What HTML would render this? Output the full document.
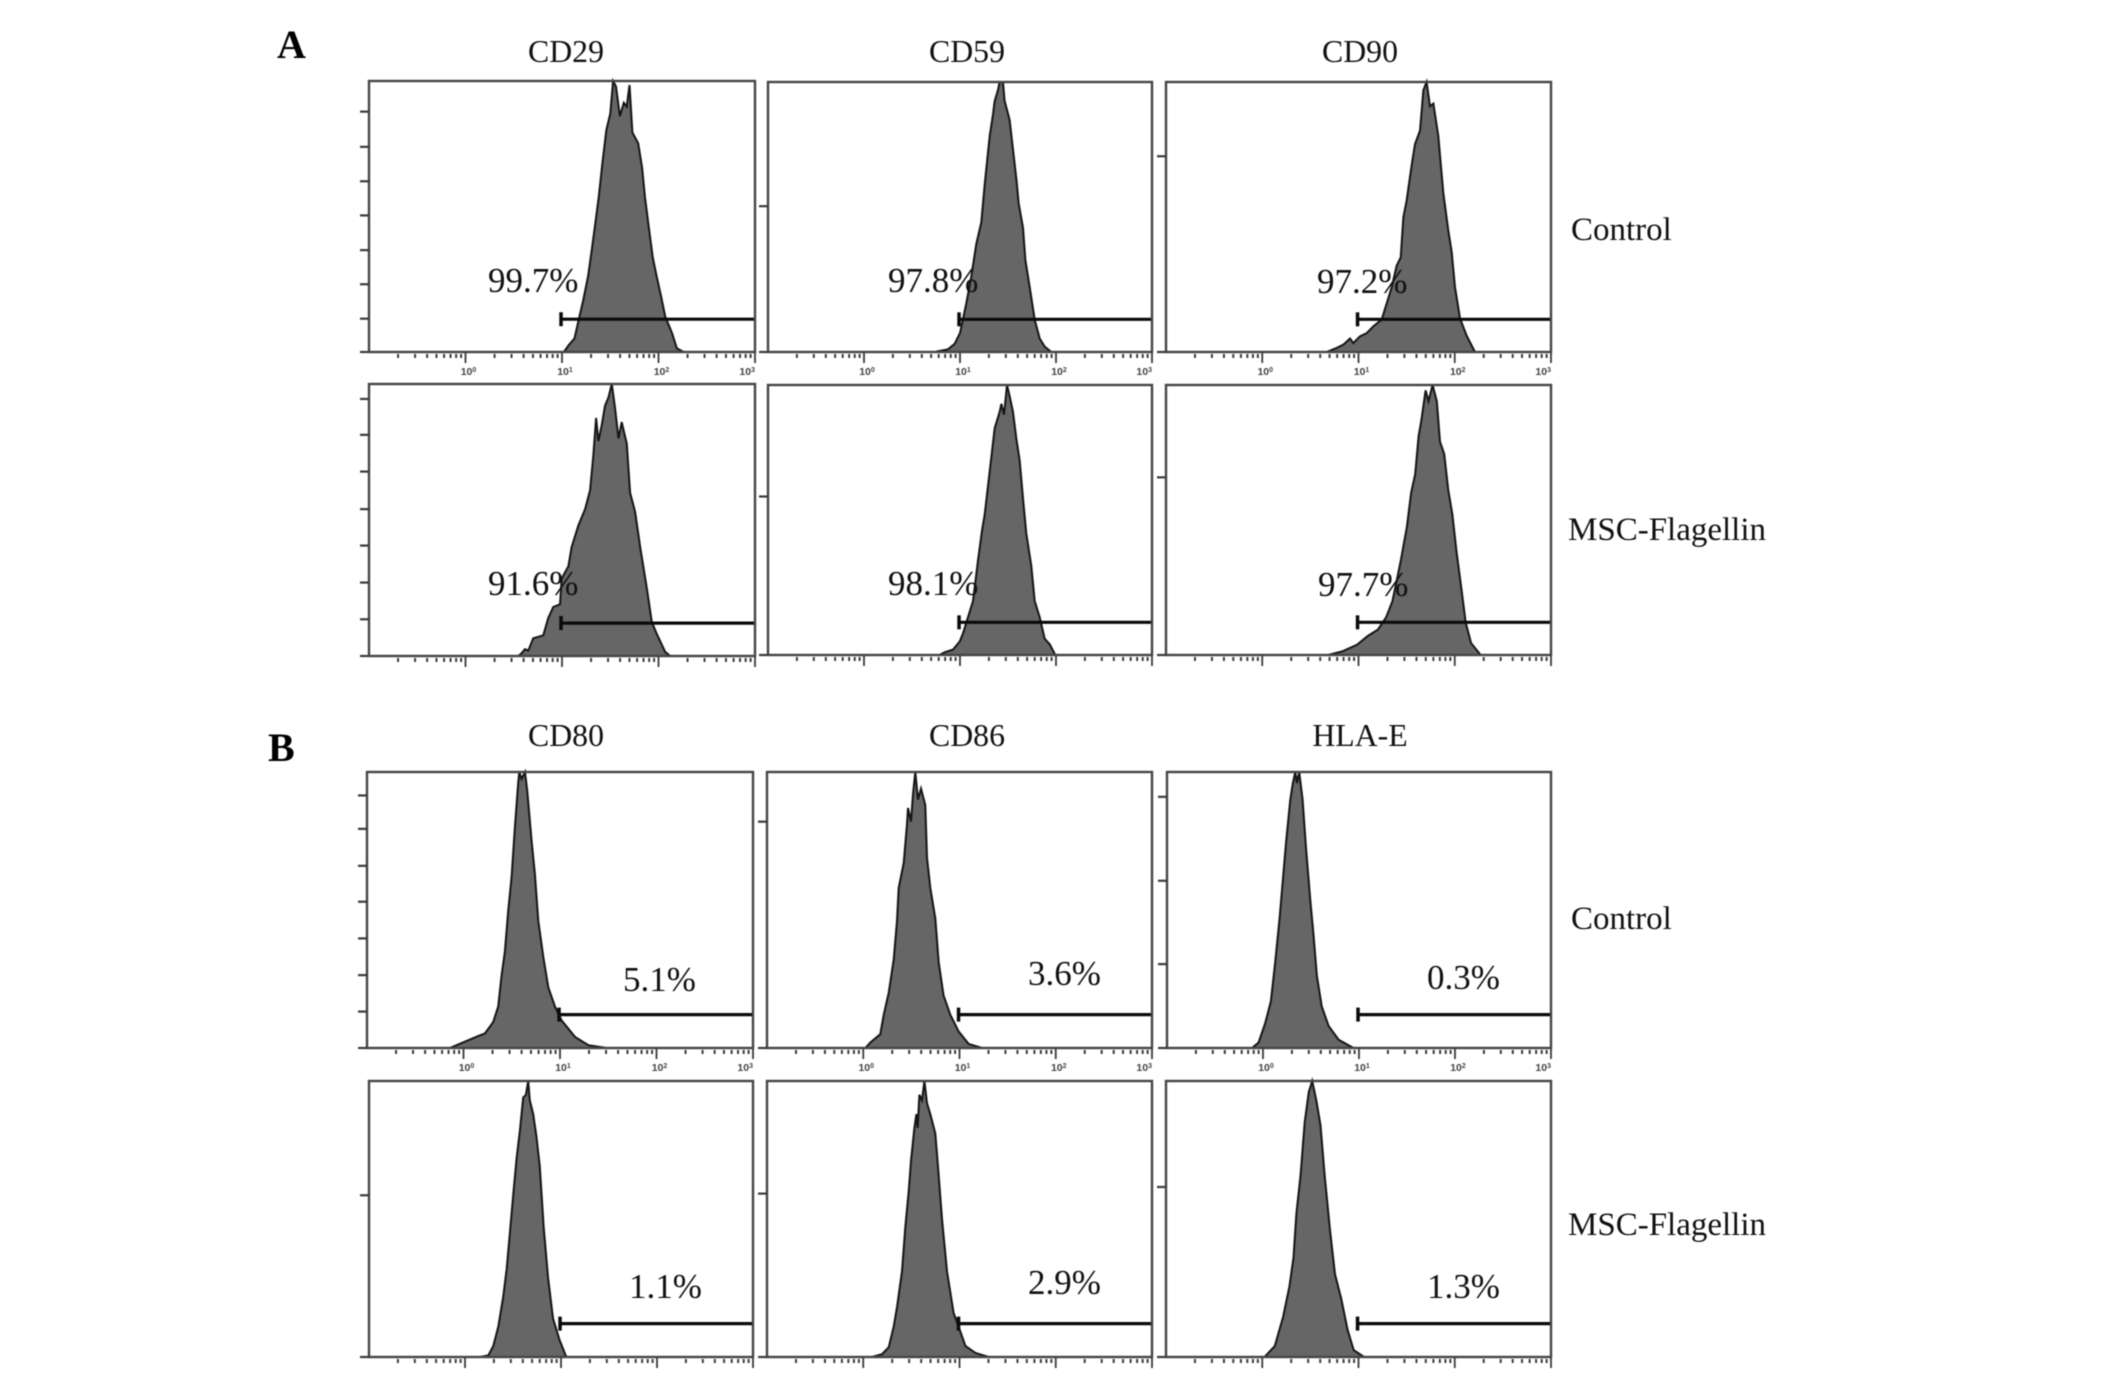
<!DOCTYPE html>
<html lang="en">
<head>
<meta charset="utf-8">
<title>Flow cytometry histograms of MSC surface markers</title>
<style>
html,body{margin:0;padding:0;background:#fff;}
#figure{display:block;width:2126px;height:1379px;filter:blur(0.45px);}
.serif{font-family:"Liberation Serif",serif;fill:#111;}
.title{font-size:31.8px;text-anchor:middle;}
.pct{font-size:35px;}
.row{font-size:33px;}
.letter{font-size:40px;font-weight:bold;fill:#000;}
</style>
</head>
<body>
<svg id="figure" xmlns="http://www.w3.org/2000/svg" width="2126" height="1379" viewBox="0 0 2126 1379">
<rect x="0" y="0" width="2126" height="1379" fill="#fff"/>
<g id="plots"></g>

<text class="serif letter" x="277" y="58">A</text>
<text class="serif letter" x="268" y="761">B</text>

<text class="serif title" x="566" y="62">CD29</text>
<text class="serif title" x="967" y="62">CD59</text>
<text class="serif title" x="1360" y="62">CD90</text>
<text class="serif title" x="566" y="746">CD80</text>
<text class="serif title" x="967" y="746">CD86</text>
<text class="serif title" x="1360" y="746">HLA-E</text>

<text class="serif row" x="1571" y="240">Control</text>
<text class="serif row" x="1568" y="540">MSC-Flagellin</text>
<text class="serif row" x="1571" y="929">Control</text>
<text class="serif row" x="1568" y="1235">MSC-Flagellin</text>

<text class="serif pct" x="488" y="292">99.7%</text>
<text class="serif pct" x="888" y="292">97.8%</text>
<text class="serif pct" x="1317" y="293">97.2%</text>
<text class="serif pct" x="488" y="595">91.6%</text>
<text class="serif pct" x="888" y="595">98.1%</text>
<text class="serif pct" x="1318" y="596">97.7%</text>
<text class="serif pct" x="623" y="991">5.1%</text>
<text class="serif pct" x="1028" y="985">3.6%</text>
<text class="serif pct" x="1427" y="989">0.3%</text>
<text class="serif pct" x="629" y="1298">1.1%</text>
<text class="serif pct" x="1028" y="1294">2.9%</text>
<text class="serif pct" x="1427" y="1298">1.3%</text>
</svg>

<script>
// Axis definition (log10 fluorescence intensity, % of panel maximum)
const xDomain = [-1, 3];
const yDomain = [0, 100];
const xDecades = [0, 1, 2, 3];
const xMinorMultipliers = [2, 3, 4, 5, 6, 7, 8, 9];
const gateStartLog = 0.99;
const gateCount = 12.1;

// Panel A, control row
const cd29ControlLog = [1.02,1.07,1.13,1.18,1.22,1.27,1.31,1.34,1.38,1.42,1.46,1.50,1.53,1.56,1.60,1.64,1.67,1.70,1.73,1.79,1.83,1.86,1.90,1.94,1.98,2.03,2.07,2.14,2.19,2.26];
const cd29ControlCount = [0,2.6,5,13,19,28,38,46,57,70,82,88,100,98,87,92,90.5,98.5,81,77,68,57,46,35,28,20,13,7,1.4,0];
const cd29ControlTicks = [0,12.3,25,37.6,50.4,63,75.7,88.7];

const cd59ControlLog = [0.76,0.875,0.944,1.0,1.066,1.118,1.17,1.222,1.257,1.309,1.344,1.361,1.396,1.413,1.448,1.465,1.517,1.552,1.587,1.611,1.656,1.681,1.726,1.778,1.83,1.882,1.951];
const cd59ControlCount = [0.2,1,3,7,18,28,40,48,62,80,88,93,97,100,100,93,86,75,64,55,46,34,24,12,5,2,0];
const cd59ControlTicks = [0,54];

const cd90ControlLog = [0.669,0.773,0.842,0.912,0.946,1.016,1.085,1.154,1.241,1.293,1.345,1.397,1.438,1.466,1.5,1.552,1.587,1.639,1.674,1.708,1.743,1.778,1.829,1.881,1.933,1.968,2.003,2.055,2.124,2.21];
const cd90ControlCount = [0,1.5,2.7,5,3.3,5.8,7,9.5,12,18,24,32,35,50,56,69,77,82,97,100,91,92,80,59,45,37,24,12.5,6,0];
const cd90ControlTicks = [0,72.5];

// Panel A, MSC-Flagellin row
const cd29FlagellinLog = [0.547,0.581,0.616,0.651,0.702,0.806,0.858,0.91,0.979,0.997,1.066,1.1,1.17,1.239,1.291,1.325,1.353,1.377,1.412,1.446,1.481,1.516,1.55,1.585,1.619,1.671,1.706,1.758,1.81,1.879,1.931,1.983,2.069,2.121];
const cd29FlagellinCount = [0,1,2.5,2,6.5,7.6,14,18,19,28.5,33,40,48,54,61,74,87.5,79,85,92,95,100,91,80,86,78,60,53,40,25,12.5,8,1.5,0];
const cd29FlagellinTicks = [0,13.5,27,40.6,54,67.8,81.3,94.5];

const cd59FlagellinLog = [0.788,0.84,0.927,0.997,1.031,1.083,1.135,1.188,1.229,1.257,1.309,1.361,1.413,1.431,1.458,1.49,1.517,1.552,1.587,1.622,1.656,1.691,1.743,1.778,1.83,1.882,1.934,1.993];
const cd59FlagellinCount = [0,1,2,5,8,14,20,35,46,52,68,84,90,93,89,100,96,90,80,72,58,45,33,20,14,6,4,0];
const cd59FlagellinTicks = [0,58.7];

const cd90FlagellinLog = [0.686,0.837,0.987,1.095,1.202,1.288,1.353,1.439,1.503,1.546,1.589,1.624,1.654,1.697,1.727,1.77,1.813,1.847,1.89,1.933,1.976,2.019,2.071,2.114,2.17,2.269];
const cd90FlagellinCount = [0,1.4,3.8,7,9.4,14,20,35,47.5,60,67,81,87,98,94,100,94,79,74.5,61,52,38,24,12,4.4,0];
const cd90FlagellinTicks = [0,65.8];

// Panel B, control row
const cd80ControlLog = [-0.142,0.048,0.17,0.221,0.308,0.36,0.394,0.429,0.464,0.498,0.533,0.567,0.578,0.602,0.637,0.661,0.706,0.74,0.775,0.827,0.879,0.948,1.017,1.156,1.294,1.484];
const cd80ControlCount = [0,2.8,4.6,5.2,9.4,15,26,35,50,62,80,96,100,97.5,100,93,75,63,46,33,22,15,10,4,1,0];
const cd80ControlTicks = [0,13.2,26.4,39.7,53,66,79.4,91.5];

const cd86ControlLog = [0.022,0.074,0.177,0.212,0.264,0.316,0.351,0.368,0.42,0.455,0.465,0.496,0.517,0.541,0.569,0.6,0.645,0.662,0.697,0.749,0.784,0.835,0.905,0.991,1.095,1.234];
const cd86ControlCount = [0,2,5,12,20,32,46,58,67,81,87,82,92,100,90,94,88,69,58,47,31,19,12,6,1.5,0];
const cd86ControlTicks = [0,82];

const hlaEControlLog = [-0.115,-0.046,0.023,0.082,0.127,0.173,0.207,0.242,0.284,0.311,0.336,0.353,0.377,0.412,0.447,0.492,0.526,0.561,0.613,0.683,0.787,0.943];
const hlaEControlCount = [0,2,9,17,31,47,61,75,90,96,100,96,100,90,73,54,41,26,15,8,3,0];
const hlaEControlTicks = [0,30.4,60.6,91];

// Panel B, MSC-Flagellin row
const cd80FlagellinLog = [0.157,0.244,0.295,0.347,0.399,0.434,0.468,0.503,0.537,0.572,0.606,0.634,0.658,0.675,0.71,0.744,0.779,0.82,0.865,0.917,0.986,1.055];
const cd80FlagellinCount = [0,0.6,4,11,22,32,45,59,72,82,94,95,100,93,88,80,69,47,29,14,6,0];
const cd80FlagellinTicks = [0,58.6];

const cd86FlagellinLog = [0.091,0.195,0.264,0.316,0.351,0.403,0.437,0.472,0.496,0.531,0.552,0.565,0.583,0.61,0.635,0.662,0.697,0.749,0.777,0.818,0.87,0.939,0.991,1.061,1.165,1.303];
const cd86FlagellinCount = [0,1,3.5,11,18,31,47,60,71,83,88,83,95,93,100,92,88,81,69,50,31,16,11,4,1.5,0];
const cd86FlagellinTicks = [0,59.2];

const hlaEFlagellinLog = [0.023,0.13,0.217,0.282,0.325,0.355,0.398,0.441,0.484,0.519,0.562,0.605,0.648,0.704,0.756,0.821,0.886,0.95,1.058];
const hlaEFlagellinCount = [0,4,14.5,25.5,36,52,66,85,96,100,93,84,66,46,30,21,10,2.5,0];
const hlaEFlagellinTicks = [0,61.6];

const SVGNS = 'http://www.w3.org/2000/svg';
const plotsRoot = document.getElementById('plots');

function svgEl(tag, parent, attrs) {
  const el = document.createElementNS(SVGNS, tag);
  for (const k in attrs) el.setAttribute(k, attrs[k]);
  parent.appendChild(el);
  return el;
}

function drawPanel(slug, left, right, top, bottom, logs, counts, yTicks, showLabels) {
  const xScale = v => left + (v - xDomain[0]) / (xDomain[1] - xDomain[0]) * (right - left);
  const yScale = v => bottom - (v - yDomain[0]) / (yDomain[1] - yDomain[0]) * (bottom - top);

  const g = svgEl('g', plotsRoot, {});
  
  

  // histogram
  let d = 'M' + xScale(logs[0]).toFixed(1) + ' ' + yScale(0).toFixed(1);
  logs.forEach((v, i) => { d += 'L' + xScale(v).toFixed(1) + ' ' + yScale(counts[i]).toFixed(1); });
  d += 'L' + xScale(logs[logs.length - 1]).toFixed(1) + ' ' + yScale(0).toFixed(1) + 'Z';
  const hist = svgEl('path', g, { d: d, fill: '#666666', stroke: '#151515', 'stroke-width': 2, 'stroke-linejoin': 'miter' });
  
  

  // gate
  const gy = yScale(gateCount);
  const gx = xScale(gateStartLog);
  const gateLine = svgEl('line', g, { x1: gx, x2: right, y1: gy, y2: gy, stroke: '#0a0a0a', 'stroke-width': 3.2 });
  
  
  const gateCap = svgEl('line', g, { x1: gx, x2: gx, y1: gy - 7, y2: gy + 7, stroke: '#0a0a0a', 'stroke-width': 3.5 });
  
  

  // frame
  const frame = svgEl('rect', g, { x: left, y: top, width: right - left, height: bottom - top, fill: 'none', stroke: '#454545', 'stroke-width': 2.4 });
  
  

  // y ticks
  yTicks.forEach(v => {
    const t = svgEl('line', g, { x1: left - 9, x2: left, y1: yScale(v), y2: yScale(v), stroke: '#3a3a3a', 'stroke-width': 2.2 });
    
    
  });

  // x ticks: minor ticks for each decade, major ticks on decades
  xDecades.forEach(dec => {
    xMinorMultipliers.forEach(m => {
      const mx = xScale(dec - 1 + Math.log10(m));
      const t = svgEl('line', g, { x1: mx, x2: mx, y1: bottom + 2, y2: bottom + 6, stroke: '#3a3a3a', 'stroke-width': 2 });
      
      
    });
    const tx = xScale(dec);
    const major = svgEl('line', g, { x1: tx, x2: tx, y1: bottom + 1, y2: bottom + 11, stroke: '#3a3a3a', 'stroke-width': 1.8 });
    
    

    if (showLabels) {
      const last = dec === xDecades[xDecades.length - 1];
      const label = svgEl('text', g, {
        x: last ? tx : tx + 3,
        y: bottom + 23,
        'text-anchor': last ? 'end' : 'middle',
        'font-family': '"Liberation Sans", sans-serif',
        'font-size': 10.5,
        'font-weight': 'bold',
        fill: '#444'
      });
      
      
      const base = svgEl('tspan', label, {});
      base.textContent = '10';
      const sup = svgEl('tspan', label, { dy: -3, 'font-size': 7 });
      sup.textContent = String(dec);
    }
  });
}

drawPanel('cd29-control', 369, 755, 81, 352, cd29ControlLog, cd29ControlCount, cd29ControlTicks, true);
drawPanel('cd59-control', 768, 1152, 82, 352, cd59ControlLog, cd59ControlCount, cd59ControlTicks, true);
drawPanel('cd90-control', 1166, 1551, 82, 352, cd90ControlLog, cd90ControlCount, cd90ControlTicks, true);
drawPanel('cd29-flagellin', 369, 755, 384, 656, cd29FlagellinLog, cd29FlagellinCount, cd29FlagellinTicks, false);
drawPanel('cd59-flagellin', 768, 1152, 385, 655, cd59FlagellinLog, cd59FlagellinCount, cd59FlagellinTicks, false);
drawPanel('cd90-flagellin', 1166, 1551, 385, 655, cd90FlagellinLog, cd90FlagellinCount, cd90FlagellinTicks, false);
drawPanel('cd80-control', 367, 753, 772, 1048, cd80ControlLog, cd80ControlCount, cd80ControlTicks, true);
drawPanel('cd86-control', 767, 1152, 772, 1048, cd86ControlLog, cd86ControlCount, cd86ControlTicks, true);
drawPanel('hla-e-control', 1167, 1551, 772, 1048, hlaEControlLog, hlaEControlCount, hlaEControlTicks, true);
drawPanel('cd80-flagellin', 369, 753, 1081, 1357, cd80FlagellinLog, cd80FlagellinCount, cd80FlagellinTicks, false);
drawPanel('cd86-flagellin', 767, 1152, 1081, 1357, cd86FlagellinLog, cd86FlagellinCount, cd86FlagellinTicks, false);
drawPanel('hla-e-flagellin', 1166, 1551, 1081, 1357, hlaEFlagellinLog, hlaEFlagellinCount, hlaEFlagellinTicks, false);
</script>
</body>
</html>
